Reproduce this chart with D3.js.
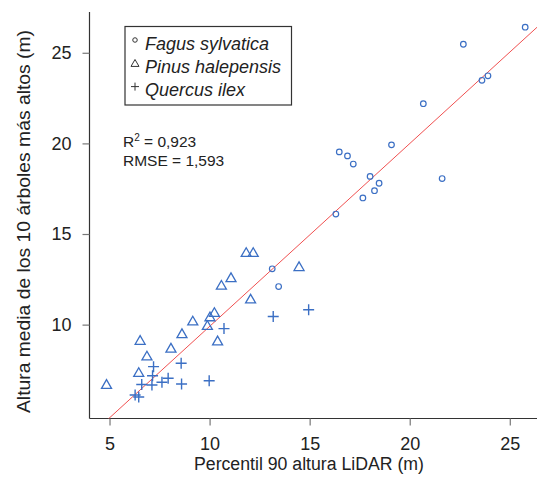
<!DOCTYPE html>
<html>
<head>
<meta charset="utf-8">
<script src="https://cdn.jsdelivr.net/npm/d3@7"></script>
<style>
  html, body { margin: 0; padding: 0; background: #fff; }
  svg { display: block; }
  text { font-family: "Liberation Sans", Arial, sans-serif; fill: #222; }
</style>
</head>
<body>
<div id="chart"></div>
<script>
// Fagus sylvatica: [LiDAR p90, mean height of 10 tallest]
const fagus = [
  [25.77, 26.41], [22.68, 25.47], [23.61, 23.48], [23.91, 23.73], [20.68, 22.19],
  [21.62, 18.06], [19.09, 19.92], [16.48, 19.53], [16.89, 19.31], [17.18, 18.86],
  [18.02, 18.18], [18.47, 17.80], [18.24, 17.39], [17.66, 16.99], [16.31, 16.10],
  [13.13, 13.08], [13.45, 12.10]
];
// Pinus halepensis
const pinus = [
  [11.83, 13.98], [12.18, 13.98], [14.47, 13.20], [11.07, 12.59], [10.59, 12.17],
  [12.05, 11.41], [10.24, 10.67], [10.02, 10.43], [9.16, 10.20], [9.89, 9.95],
  [8.62, 9.50], [6.53, 9.13], [10.40, 9.10], [8.07, 8.70], [6.87, 8.27],
  [6.46, 7.36], [4.85, 6.70]
];
// Quercus ilex
const quercus = [
  [13.18, 10.45], [14.95, 10.82], [10.72, 9.78], [8.58, 7.87], [7.20, 7.68],
  [7.15, 7.18], [6.61, 6.70], [7.12, 6.67], [7.62, 6.82], [7.93, 7.04],
  [8.60, 6.72], [9.98, 6.90], [6.28, 6.12], [6.46, 6.01]
];
const species = ['Fagus sylvatica', 'Pinus halepensis', 'Quercus ilex'];
const xTicks = [5, 10, 15, 20, 25];
const yTicks = [10, 15, 20, 25];
// fitted line y = a + b x
const fitIntercept = -0.19;
const fitSlope = 1.009;
const statLines = ['0,923', '1,593'];

const width = 538, height = 477;
const plotLeft = 89.5, plotRight = 537, plotTop = 12, plotBottom = 418.5;
const blue = '#3b6fc4';

const x = d3.scaleLinear().domain([4.0, 26.36]).range([plotLeft, plotRight]);
const y = d3.scaleLinear().domain([4.82, 27.25]).range([plotBottom, plotTop]);

const svg = d3.select('#chart').append('svg')
  .attr('width', width)
  .attr('height', height);

// clip for the fitted line
svg.append('clipPath').attr('id', 'plotClip')
  .append('rect')
  .attr('x', plotLeft).attr('y', plotTop)
  .attr('width', plotRight - plotLeft).attr('height', plotBottom - plotTop);

// axes
const xAxis = svg.append('g')
  .attr('transform', 'translate(0,' + plotBottom + ')')
  .call(d3.axisBottom(x).tickValues(xTicks).tickSize(7).tickPadding(12).tickSizeOuter(0));
const yAxis = svg.append('g')
  .attr('transform', 'translate(' + plotLeft + ',0)')
  .call(d3.axisLeft(y).tickValues(yTicks).tickSize(7).tickPadding(11).tickSizeOuter(0));

[xAxis, yAxis].forEach(function (g) {
  g.select('.domain').attr('stroke', '#333').attr('stroke-width', 1.2);
  g.selectAll('.tick line').attr('stroke', '#777').attr('stroke-width', 1.2);
  g.selectAll('.tick text')
    .style('font-family', '"Liberation Sans", Arial, sans-serif')
    .style('font-size', '18px').attr('fill', '#222');
});
// domain paths span the full plot region
xAxis.select('.domain').attr('d', 'M' + plotLeft + ',0H' + plotRight);
yAxis.select('.domain').attr('d', 'M0,' + plotTop + 'V' + plotBottom);

// axis titles
svg.append('text')
  .attr('x', 309)
  .attr('y', 470)
  .attr('text-anchor', 'middle')
  .attr('textLength', 230)
  .attr('lengthAdjust', 'spacingAndGlyphs')
  .style('font-size', '18px')
  .text('Percentil 90 altura LiDAR (m)');

svg.append('text')
  .attr('transform', 'translate(30,221.5) rotate(-90)')
  .attr('text-anchor', 'middle')
  .attr('textLength', 383)
  .attr('lengthAdjust', 'spacingAndGlyphs')
  .style('font-size', '19px')
  .text('Altura media de los 10 árboles más altos (m)');

// fitted line
const xd = x.domain();
svg.append('line')
  .attr('clip-path', 'url(#plotClip)')
  .attr('x1', x(xd[0])).attr('y1', y(fitIntercept + fitSlope * xd[0]))
  .attr('x2', x(xd[1])).attr('y2', y(fitIntercept + fitSlope * xd[1]))
  .attr('stroke', '#f05050')
  .attr('stroke-width', 1);

// symbols
const triPath = function (s) {
  const h = s * Math.sqrt(3) / 2;
  return 'M0,' + (-h * 0.55) + 'L' + (s / 2) + ',' + (h * 0.45) + 'L' + (-s / 2) + ',' + (h * 0.45) + 'Z';
};
const plusPath = function (s) {
  return 'M' + (-s) + ',0H' + s + 'M0,' + (-s) + 'V' + s;
};

const pts = svg.append('g');
pts.selectAll('circle.fagus')
  .data(fagus).enter()
  .append('circle')
  .attr('cx', function (d) { return x(d[0]); })
  .attr('cy', function (d) { return y(d[1]); })
  .attr('r', 2.8)
  .attr('fill', 'none')
  .attr('stroke', blue)
  .attr('stroke-width', 1.2);

pts.selectAll('path.pinus')
  .data(pinus).enter()
  .append('path')
  .attr('d', triPath(10))
  .attr('transform', function (d) { return 'translate(' + x(d[0]) + ',' + y(d[1]) + ')'; })
  .attr('fill', 'none')
  .attr('stroke', blue)
  .attr('stroke-width', 1.3)
  .attr('stroke-linejoin', 'miter');

pts.selectAll('path.quercus')
  .data(quercus).enter()
  .append('path')
  .attr('d', plusPath(5.5))
  .attr('transform', function (d) { return 'translate(' + x(d[0]) + ',' + y(d[1]) + ')'; })
  .attr('fill', 'none')
  .attr('stroke', blue)
  .attr('stroke-width', 1.4);

// legend
const legend = svg.append('g');
legend.append('rect')
  .attr('x', 125).attr('y', 26.5)
  .attr('width', 166.5).attr('height', 78.5)
  .attr('fill', '#fff')
  .attr('stroke', '#333')
  .attr('stroke-width', 1.2);

const rows = legend.selectAll('g.row')
  .data(species).enter()
  .append('g')
  .attr('transform', function (d, i) { return 'translate(0,' + (49.5 + i * 23.3) + ')'; });

rows.append('text')
  .attr('x', 145)
  .attr('y', 0)
  .style('font-size', '18px')
  .style('font-style', 'italic')
  .text(function (d) { return d; });

rows.append('path')
  .attr('d', function (d, i) {
    if (i === 0) return d3.symbol(d3.symbolCircle, 16)();
    if (i === 1) return triPath(8);
    return plusPath(4);
  })
  .attr('transform', 'translate(135,-9.5)')
  .attr('fill', 'none')
  .attr('stroke', '#333')
  .attr('stroke-width', 1);

// statistics
const stats = svg.append('g').style('font-size', '15.5px');
const r2 = stats.append('text').attr('x', 123).attr('y', 146.5);
r2.append('tspan').text('R');
r2.append('tspan').attr('dy', -6).style('font-size', '10px').text('2');
r2.append('tspan').attr('dy', 6).text(' = ' + statLines[0]);
stats.append('text').attr('x', 123).attr('y', 166).text('RMSE = ' + statLines[1]);
</script>
</body>
</html>
